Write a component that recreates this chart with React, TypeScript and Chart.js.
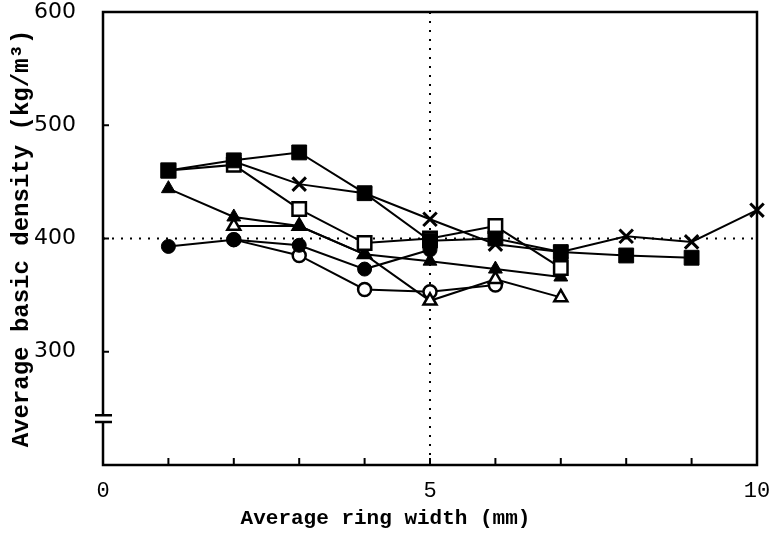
import React, { useEffect, useRef } from 'react';
import { Chart, registerables } from 'chart.js';

Chart.register(...registerables);

// ---- data ----
const filledSquareX = [1, 2, 3, 4, 5, 6, 7, 8, 9];
const filledSquareY = [460, 469, 476, 440, 398, 400, 388, 385, 383];

const openSquareX = [1, 2, 3, 4, 5, 6, 7];
const openSquareY = [460, 465, 426, 396, 400, 411, 374];

const crossX = [2, 3, 4, 5, 6, 7, 8, 9, 10];
const crossY = [468, 448, 440, 417, 395, 388, 402, 397, 425];

const filledTriangleX = [1, 2, 3, 4, 5, 6, 7];
const filledTriangleY = [444, 419, 411, 386, 380, 373, 366];

const openTriangleX = [2, 3, 4, 5, 6, 7];
const openTriangleY = [411, 411, 386, 345, 364, 348];

const filledCircleX = [1, 2, 3, 4, 5];
const filledCircleY = [393, 399, 394, 373, 390];

const openCircleX = [2, 3, 4, 5, 6];
const openCircleY = [399, 385, 355, 353, 359];

const xTickLabels = [0, 5, 10];
const yTickLabels = [300, 400, 500, 600];
const refLineX = 5;
const refLineY = 400;
const axisBreakLow = 238;
const axisBreakHigh = 244;

const xTitle = 'Average ring width (mm)';
const yTitle = 'Average basic density (kg/m\u00B3)';

function pts(xs: number[], ys: number[]) {
  return xs.map((x, i) => ({ x, y: ys[i] }));
}

function makeSet(label: string, xs: number[], ys: number[], style: string, filled: boolean, radius: number, bw: number) {
  return {
    label,
    data: pts(xs, ys),
    borderColor: '#000',
    borderWidth: 2,
    pointStyle: style,
    pointRadius: radius,
    pointBorderWidth: bw,
    pointBorderColor: '#000',
    pointBackgroundColor: filled ? '#000' : '#fff',
    backgroundColor: filled ? '#000' : '#fff',
    tension: 0,
    fill: false,
    clip: false,
  };
}

const framePlugin = {
  id: 'framePlugin',
  beforeDatasetsDraw(chart: any) {
    const { ctx, chartArea: a, scales } = chart;
    const x = scales.x;
    const y = scales.y;
    ctx.save();
    ctx.strokeStyle = '#000';
    ctx.lineWidth = 2;
    ctx.setLineDash([2, 7]);
    const px = x.getPixelForValue(refLineX);
    ctx.beginPath();
    ctx.moveTo(px, a.top);
    ctx.lineTo(px, a.bottom);
    ctx.stroke();
    const py = y.getPixelForValue(refLineY);
    ctx.beginPath();
    ctx.moveTo(a.left, py);
    ctx.lineTo(a.right, py);
    ctx.stroke();
    ctx.restore();
  },
  afterDatasetsDraw(chart: any) {
    const { ctx, chartArea: a, scales, width } = chart;
    const x = scales.x;
    const y = scales.y;
    ctx.save();
    ctx.strokeStyle = '#000';
    ctx.lineWidth = 2.5;
    ctx.setLineDash([]);
    ctx.strokeRect(a.left, a.top, a.right - a.left, a.bottom - a.top);
    ctx.lineWidth = 2;
    for (let v = 1; v < 10; v++) {
      const px = x.getPixelForValue(v);
      ctx.beginPath();
      ctx.moveTo(px, a.bottom);
      ctx.lineTo(px, a.bottom - 7);
      ctx.stroke();
    }
    yTickLabels.forEach((v) => {
      if (v >= 600) return;
      const py = y.getPixelForValue(v);
      ctx.beginPath();
      ctx.moveTo(a.left, py);
      ctx.lineTo(a.left + 6, py);
      ctx.stroke();
    });
    const b1 = y.getPixelForValue(axisBreakHigh);
    const b2 = y.getPixelForValue(axisBreakLow);
    ctx.fillStyle = '#fff';
    ctx.fillRect(a.left - 3, b1, 6, b2 - b1);
    ctx.lineWidth = 2.5;
    ctx.beginPath();
    ctx.moveTo(a.left - 8, b1);
    ctx.lineTo(a.left + 9, b1);
    ctx.moveTo(a.left - 8, b2);
    ctx.lineTo(a.left + 9, b2);
    ctx.stroke();
    // x axis title, centred on the whole figure as in the original
    ctx.fillStyle = '#000';
    ctx.font = 'bold 21px "Liberation Mono"';
    ctx.textAlign = 'center';
    ctx.textBaseline = 'middle';
    ctx.fillText(xTitle, width / 2, 519);
    ctx.restore();
  },
};

export default function App() {
  const ref = useRef<HTMLCanvasElement | null>(null);

  useEffect(() => {
    if (!ref.current) return;
    const datasets = [
      makeSet('filled square', filledSquareX, filledSquareY, 'rect', true, 10.5, 1),
      makeSet('open square', openSquareX, openSquareY, 'rect', false, 9.5, 2.5),
      makeSet('cross', crossX, crossY, 'crossRot', false, 9.5, 3),
      makeSet('filled triangle', filledTriangleX, filledTriangleY, 'triangle', true, 8, 1),
      makeSet('open triangle', openTriangleX, openTriangleY, 'triangle', false, 7.5, 2.5),
      makeSet('filled circle', filledCircleX, filledCircleY, 'circle', true, 7, 1),
      makeSet('open circle', openCircleX, openCircleY, 'circle', false, 6.5, 2.5),
    ];
    const chart = new Chart(ref.current, {
      type: 'line',
      data: { datasets: datasets as any },
      options: {
        responsive: false,
        animation: false,
        events: [],
        layout: { autoPadding: false, padding: { left: 0, right: 14, top: 12, bottom: 0 } },
        plugins: {
          legend: { display: false },
          tooltip: { enabled: false },
        },
        scales: {
          x: {
            type: 'linear',
            min: 0,
            max: 10,
            grid: { display: false, drawTicks: false },
            border: { display: false },
            afterFit: (s: any) => {
              s.height = 72;
              s.paddingLeft = 0;
              s.paddingRight = 0;
            },
            ticks: {
              stepSize: 1,
              autoSkip: false,
              maxRotation: 0,
              padding: 13,
              color: '#000',
              font: { family: 'Liberation Mono', size: 22 },
              callback: (v: any) => (xTickLabels.includes(Number(v)) ? String(v) : ''),
            },
            title: { display: false },
          },
          y: {
            type: 'linear',
            min: 200,
            max: 600,
            grid: { display: false, drawTicks: false },
            border: { display: false },
            afterFit: (s: any) => {
              s.width = 103;
              s.paddingTop = 0;
              s.paddingBottom = 0;
            },
            ticks: {
              stepSize: 100,
              padding: 27,
              color: '#000',
              font: { family: 'DejaVu Sans', size: 22 },
              callback: (v: any) => (yTickLabels.includes(Number(v)) ? String(v) : ''),
            },
            title: {
              display: true,
              text: yTitle,
              color: '#000',
              font: { family: 'Liberation Mono', size: 24, weight: 'bold' },
              padding: { top: 8, bottom: 0 },
            },
          },
        },
      } as any,
      plugins: [framePlugin],
    });
    return () => chart.destroy();
  }, []);

  return (
    <div style={{ position: 'fixed', left: 0, top: 0, width: 771, height: 537, background: '#fff' }}>
      <canvas ref={ref} width={771} height={537} />
    </div>
  );
}
